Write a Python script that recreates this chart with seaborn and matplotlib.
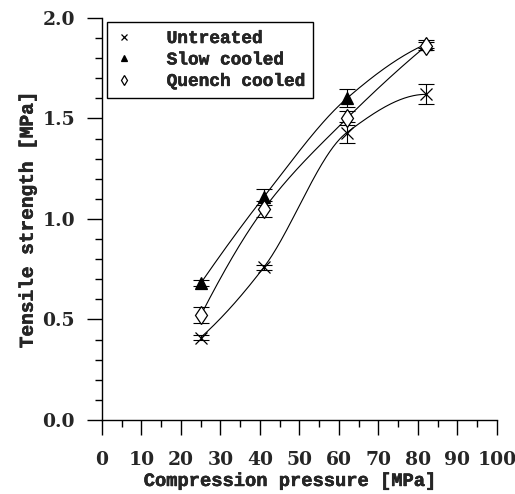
import numpy as np
import pandas as pd
import matplotlib
matplotlib.use("Agg")
import matplotlib.pyplot as plt
import matplotlib.patheffects as pe
import seaborn as sns
from matplotlib.ticker import MultipleLocator

pressure = [25, 41, 62, 82]
untreated = [0.41, 0.76, 1.43, 1.62]
untreated_err = [0.012, 0.012, 0.05, 0.05]
slow = [0.68, 1.11, 1.60, 1.87]
slow_err = [0.015, 0.04, 0.045, 0.02]
quench = [0.52, 1.05, 1.50, 1.86]
quench_err = [0.04, 0.04, 0.035, 0.02]

series_names = ["Untreated", "Slow cooled", "Quench cooled"]
x_ticks = list(range(0, 101, 10))
y_ticks = [0.0, 0.5, 1.0, 1.5, 2.0]

LABEL_FONT = "Liberation Mono"
TICK_FONT = "DejaVu Serif"

sns.set_style("ticks")
plt.rcParams['font.family'] = [TICK_FONT]
plt.rcParams['font.weight'] = 'bold'

heavy = [pe.withStroke(linewidth=0.35, foreground="black")]


def pchip(x, y, xs):
    """Monotone piecewise cubic Hermite (Fritsch-Carlson) smoothing curve."""
    x = np.asarray(x, float)
    y = np.asarray(y, float)
    h = np.diff(x)
    d = np.diff(y) / h
    n = len(x)
    m = np.zeros(n)
    for k in range(1, n - 1):
        if d[k - 1] * d[k] > 0:
            w1 = 2 * h[k] + h[k - 1]
            w2 = h[k] + 2 * h[k - 1]
            m[k] = (w1 + w2) / (w1 / d[k - 1] + w2 / d[k])
    m[0] = ((2 * h[0] + h[1]) * d[0] - h[0] * d[1]) / (h[0] + h[1])
    if np.sign(m[0]) != np.sign(d[0]):
        m[0] = 0
    m[-1] = ((2 * h[-1] + h[-2]) * d[-1] - h[-1] * d[-2]) / (h[-1] + h[-2])
    if np.sign(m[-1]) != np.sign(d[-1]):
        m[-1] = 0
    out = np.empty_like(xs)
    for i, xv in enumerate(xs):
        k = min(np.searchsorted(x, xv, side="right") - 1, n - 2)
        t = (xv - x[k]) / h[k]
        h00 = 2 * t**3 - 3 * t**2 + 1
        h10 = t**3 - 2 * t**2 + t
        h01 = -2 * t**3 + 3 * t**2
        h11 = t**3 - t**2
        out[i] = h00 * y[k] + h10 * h[k] * m[k] + h01 * y[k + 1] + h11 * h[k] * m[k + 1]
    return out


fig = plt.figure(figsize=(5.15, 4.94), dpi=100)
ax = fig.add_axes([0.198, 0.150, 0.767, 0.8136])

rows = []
for name, vals, errs in zip(series_names, [untreated, slow, quench],
                            [untreated_err, slow_err, quench_err]):
    for p, v, e in zip(pressure, vals, errs):
        rows.append({"series": name, "pressure": p, "strength": v, "err": e})
df = pd.DataFrame(rows)

curve_rows = []
for name in series_names:
    sub = df[df.series == name]
    xs = np.linspace(sub.pressure.min(), sub.pressure.max(), 200)
    ys = pchip(sub.pressure.values, sub.strength.values, xs)
    for xv, yv in zip(xs, ys):
        curve_rows.append({"series": name, "pressure": xv, "strength": yv})
curves = pd.DataFrame(curve_rows)

sns.lineplot(data=curves, x="pressure", y="strength", units="series",
             estimator=None, color="black", linewidth=0.8, ax=ax, legend=False)

markers = {"Untreated": "x", "Slow cooled": "^", "Quench cooled": "d"}
sizes = {"Untreated": 9, "Slow cooled": 8, "Quench cooled": 9.5}
face = {"Untreated": "black", "Slow cooled": "black", "Quench cooled": "white"}
for name in series_names:
    sub = df[df.series == name]
    ax.errorbar(sub.pressure, sub.strength, yerr=sub.err, fmt="none",
                ecolor="black", elinewidth=0.8, capsize=5.5, capthick=0.8, zorder=3)
    ax.plot(sub.pressure, sub.strength, linestyle="none", marker=markers[name],
            markersize=sizes[name], markerfacecolor=face[name],
            markeredgecolor="black", markeredgewidth=0.9, zorder=4, label=name)

leg = ax.legend(loc="upper left", bbox_to_anchor=(0.013, 0.99), markerscale=0.5,
                frameon=True, fancybox=False, edgecolor="black", framealpha=1,
                prop={"family": LABEL_FONT, "weight": "bold", "size": 12.8},
                handlelength=1.0, handletextpad=1.9, borderpad=0.45,
                labelspacing=0.25, borderaxespad=0.0)
leg.get_frame().set_linewidth(1.0)
for t in leg.get_texts():
    t.set_path_effects(heavy)

ax.set_xlim(0, 100)
ax.set_ylim(0, 2.0)
ax.set_xticks(x_ticks)
ax.set_yticks(y_ticks)
ax.set_yticklabels([f"{v:.1f}" for v in y_ticks])
ax.xaxis.set_minor_locator(MultipleLocator(5))
ax.yaxis.set_minor_locator(MultipleLocator(0.1))
ax.tick_params(axis="both", which="major", direction="out", length=10.5,
               width=1.0, color="black", labelsize=13.5)
ax.tick_params(axis="y", which="major", pad=9)
ax.tick_params(axis="x", which="major", pad=12)
ax.tick_params(axis="both", which="minor", direction="out", length=5,
               width=1.0, color="black")
for lbl in ax.get_xticklabels() + ax.get_yticklabels():
    lbl.set_fontweight("bold")
    lbl.set_fontfamily(TICK_FONT)

sns.despine(ax=ax)
for s in ["left", "bottom"]:
    ax.spines[s].set_linewidth(1.0)
    ax.spines[s].set_color("black")

xl = ax.set_xlabel("Compression pressure [MPa]", fontsize=13.5, fontweight="bold",
                   fontfamily=LABEL_FONT)
yl = ax.set_ylabel("Tensile strength [MPa]", fontsize=14, fontweight="bold",
                   fontfamily=LABEL_FONT, labelpad=4)
xl.set_path_effects(heavy)
yl.set_path_effects(heavy)
ax.xaxis.set_label_coords(0.476, -0.132)

fig.savefig("out.png", dpi=100)
